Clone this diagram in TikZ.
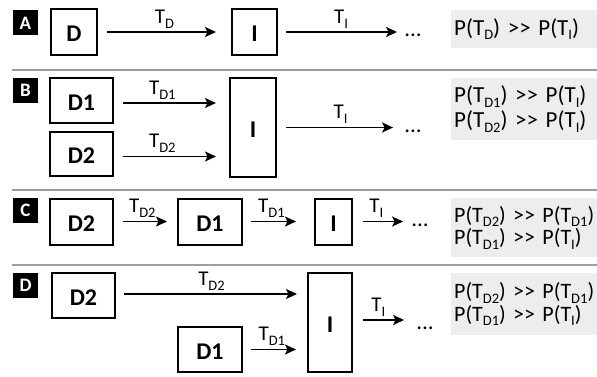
\documentclass[tikz,border=0pt]{standalone}
\usepackage{fontspec}
\setmainfont{Carlito}
\usetikzlibrary{arrows.meta}
\newcommand{\lo}[1]{\raisebox{-0.22em}{\fontsize{14.5}{14.5}\selectfont #1}}
\newcommand{\plo}[1]{\raisebox{-0.2em}{\fontsize{14.5}{14.5}\selectfont #1}}
\newcommand{\mygt}{>{}>}
\tikzset{
  box/.style={draw, line width=2pt, inner sep=0pt, text height=19.5pt, text depth=0pt, font=\bfseries\fontsize{24}{24}\selectfont},
  lab/.style={fill=black, text=white, inner sep=0pt, minimum width=25pt, minimum height=25pt, font=\bfseries\fontsize{19}{19}\selectfont},
  arr/.style={-{Stealth[length=11pt,width=10pt,inset=2.5pt]}, line width=1.8pt},
  tl/.style={above=3pt, inner sep=0pt, font=\fontsize{21}{21}\selectfont},
  dots/.style={inner sep=0pt, anchor=base, font=\fontsize{23}{23}\selectfont},
  sep/.style={draw=black!38, line width=1.4pt},
  pbox/.style={fill=black!7, anchor=north west, inner xsep=3pt, inner ysep=0pt, align=left, text width=141pt, font=\fontsize{23}{24}\selectfont}
}
\begin{document}
\begin{tikzpicture}[x=1pt,y=-1pt]
\useasboundingbox (0,0) rectangle (597,377);
% separators
\coordinate (s1a) at (12,70); \coordinate (s1b) at (597,70);
\coordinate (s2a) at (12,190); \coordinate (s2b) at (597,190);
\coordinate (s3a) at (12,265); \coordinate (s3b) at (597,265);
\draw[sep] (s1a) -- (s1b);
\draw[sep] (s2a) -- (s2b);
\draw[sep] (s3a) -- (s3b);
% ---------- A
\node[lab] (labA) at (25.5,23) {A};
\node[box, minimum width=46pt, minimum height=46pt] (AD) at (74,32) {D};
\node[box, minimum width=45pt, minimum height=46pt] (AI) at (254.5,32) {I};
\node[dots] (Adots) at (413,37) {...};
\draw[arr, shorten <=9pt, shorten >=15pt] (AD.east) -- node[tl] {T\lo{D}} (AI.west);
\draw[arr, shorten <=8pt, shorten >=7pt] (AI.east) -- node[tl] {T\lo{I}} (AI.east -| Adots.west);
\node[pbox, minimum height=38pt] (Ap) at (451,10) {\mbox{P(T\plo{D}) \mygt{} P(T\plo{I})}};
% ---------- B
\node[lab] (labB) at (25.5,90.5) {B};
\node[box, minimum width=63pt, minimum height=45pt] (BD1) at (81.5,100.5) {D1};
\node[box, minimum width=63pt, minimum height=44pt] (BD2) at (81.5,154) {D2};
\node[box, minimum width=46pt, minimum height=99pt] (BI) at (253,127.5) {I};
\node[dots] (Bdots) at (413,132) {...};
\draw[arr, shorten <=9pt, shorten >=13pt] ([yshift=-2.5pt]BD1.east) -- node[tl, pos=0.42] {T\lo{D1}} ([yshift=-2.5pt]BD1.east -| BI.west);
\draw[arr, shorten <=9pt, shorten >=13pt] ([yshift=-2.5pt]BD2.east) -- node[tl, pos=0.42] {T\lo{D2}} ([yshift=-2.5pt]BD2.east -| BI.west);
\draw[arr, shorten <=9pt, shorten >=11pt] (BI.east) -- node[tl] {T\lo{I}} (BI.east -| Bdots.west);
\node[pbox, minimum height=62pt, font=\fontsize{23}{25}\selectfont] (Bp) at (451,78) {\mbox{P(T\plo{D1}) \mygt{} P(T\plo{I})}\\\mbox{P(T\plo{D2}) \mygt{} P(T\plo{I})}};
% ---------- C
\node[lab] (labC) at (25.5,210.5) {C};
\node[box, minimum width=63pt, minimum height=46pt] (CD2) at (81.5,221.5) {D2};
\node[box, minimum width=64pt, minimum height=46pt] (CD1) at (210,221.5) {D1};
\node[box, minimum width=37pt, minimum height=46pt] (CI) at (333.5,221.5) {I};
\node[dots] (Cdots) at (420,226) {...};
\draw[arr, shorten <=9pt, shorten >=10pt] (CD2.east) -- node[tl, pos=0.45] {T\lo{D2}} (CD1.west);
\draw[arr, shorten <=8pt, shorten >=18pt] (CD1.east) -- node[tl, pos=0.4] {T\lo{D1}} (CI.west);
\draw[arr, shorten <=10pt, shorten >=8pt] (CI.east) -- node[tl, pos=0.4] {T\lo{I}} (CI.east -| Cdots.west);
\node[pbox, minimum height=59pt, font=\fontsize{22}{22.5}\selectfont] (Cp) at (451,198) {\mbox{P(T\plo{D2}) \mygt{} P(T\plo{D1})}\\\mbox{P(T\plo{D1}) \mygt{} P(T\plo{I})}};
% ---------- D
\node[lab] (labD) at (25.5,285.5) {D};
\node[box, minimum width=63pt, minimum height=45pt] (DD2) at (83.5,295.5) {D2};
\node[box, minimum width=64pt, minimum height=45pt] (DD1) at (210,349.5) {D1};
\node[box, minimum width=44pt, minimum height=99pt] (DI) at (330,322.5) {I};
\node[dots] (Ddots) at (425,329) {...};
\draw[arr, shorten <=8pt, shorten >=10pt] ([yshift=1.5pt]DD2.east) -- node[tl] {T\lo{D2}} ([yshift=1.5pt]DD2.east -| DI.west);
\draw[arr, shorten <=8pt, shorten >=11pt] (DD1.east) -- node[tl, pos=0.45] {T\lo{D1}} (DD1.east -| DI.west);
\draw[arr, shorten <=10pt, shorten >=12pt] ([yshift=2.5pt]DI.east) -- node[tl, pos=0.4] {T\lo{I}} ([yshift=2.5pt]DI.east -| Ddots.west);
\node[pbox, minimum height=62pt, font=\fontsize{22}{22.5}\selectfont] (Dp) at (451,273) {\mbox{P(T\plo{D2}) \mygt{} P(T\plo{D1})}\\\mbox{P(T\plo{D1}) \mygt{} P(T\plo{I})}};
\end{tikzpicture}
\end{document}
